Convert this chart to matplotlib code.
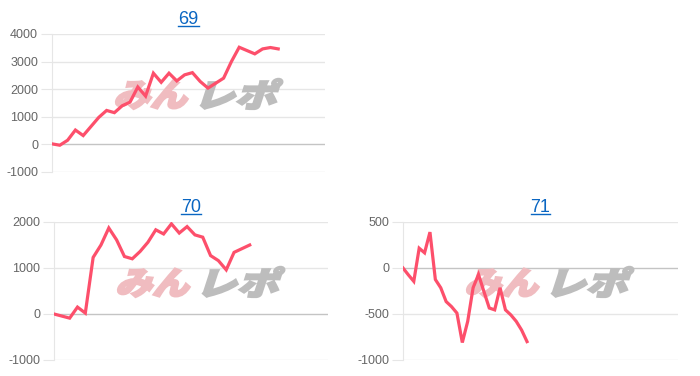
import matplotlib
matplotlib.use("Agg")
import matplotlib.pyplot as plt
from matplotlib import rcParams
from matplotlib.lines import Line2D
from matplotlib.textpath import TextPath
from matplotlib.patches import PathPatch
from matplotlib.font_manager import FontProperties
from matplotlib.transforms import Affine2D

rcParams["font.family"] = ["Liberation Sans", "DejaVu Sans"]
rcParams["axes.unicode_minus"] = False

LINE = "#fd4f6b"; GRID = "#e6e6e6"; ZERO = "#c4c4c4"; TICK = "#666666"; LINK = "#0a66c2"

# cumulative values per machine
titles = ["69", "70", "71"]
vals69 = [20, -30, 150, 520, 320, 650, 980, 1230, 1150, 1400, 1530, 2080, 1750, 2580, 2250,
          2580, 2300, 2520, 2600, 2280, 2040, 2220, 2400, 3000, 3520, 3400, 3280, 3460, 3510, 3460]
vals70 = [0, -45, -90, 150, 20, 1230, 1500, 1870, 1610, 1250, 1200, 1360, 1560, 1830, 1740,
          1960, 1760, 1900, 1720, 1670, 1270, 1160, 960, 1340, 1420, 1500]
vals71 = [0, -75, -145, 215, 165, 390, -125, -215, -365, -420, -490, -810, -580, -215, -70,
          -255, -435, -455, -215, -455, -510, -580, -675, -800]
n_cats = [36, 36, 52]
yticks = [[-1000, 0, 1000, 2000, 3000, 4000], [-1000, 0, 1000, 2000], [-1000, -500, 0, 500]]

fig = plt.figure(figsize=(7.0, 3.76), dpi=100)
W, H = 700, 376
boxes = [(52, 34, 325, 172), (54, 222, 328, 360), (403, 222, 678, 360)]
wm_font = FontProperties(family="Noto Sans CJK JP", weight="heavy")


def watermark(ax, s, left, bottom, color, sx):
    # slanted logo text placed in pixel coords
    p = TextPath((0, 0), s, size=32, prop=wm_font)
    p = Affine2D().skew_deg(14, 0).scale(sx, 1.0).transform_path(p)
    ext = p.get_extents()
    tr = Affine2D().translate(left - ext.x0, bottom - ext.y0)
    ax.add_artist(PathPatch(p, transform=tr, facecolor=color, edgecolor=color, lw=1.6,
                            joinstyle="miter", zorder=2, clip_on=False))


title_texts = []
for title, vals, n, ticks, (x0, y0, x1, y1) in zip(
        titles, [vals69, vals70, vals71], n_cats, yticks, boxes):
    ax = fig.add_axes([x0 / W, 1 - y1 / H, (x1 - x0) / W, (y1 - y0) / H])
    ax.set_xlim(0, n - 1)
    ax.set_ylim(ticks[0], ticks[-1])
    ax.set_yticks(ticks)
    ax.set_xticks([])
    for t in ticks:
        ax.axhline(t, color=ZERO if t == 0 else GRID, lw=1, zorder=1)
    for s in ["top", "right", "bottom"]:
        ax.spines[s].set_visible(False)
    ax.spines["left"].set_color(GRID)
    ax.tick_params(axis="y", length=8, color=GRID, labelsize=9, labelcolor=TICK, pad=2)
    watermark(ax, "みん", x0 + 64, H - (y0 + 75), "#f0bcc0", 1.15)
    watermark(ax, "レポ", x0 + 149, H - (y0 + 75), "#bdbdbd", 1.3)
    ax.plot(range(len(vals)), vals, color=LINE, lw=2.3, zorder=3, solid_joinstyle="miter")
    title_texts.append(ax.set_title(title, color=LINK, fontsize=13, pad=7))

# underline the link-style titles
fig.canvas.draw()
r = fig.canvas.get_renderer()
for t in title_texts:
    bb = t.get_window_extent(r)
    fig.add_artist(Line2D([bb.x0, bb.x1], [bb.y0 + 2.5, bb.y0 + 2.5], transform=None,
                          color=LINK, lw=1.0))

plt.savefig("out.png", dpi=100)
